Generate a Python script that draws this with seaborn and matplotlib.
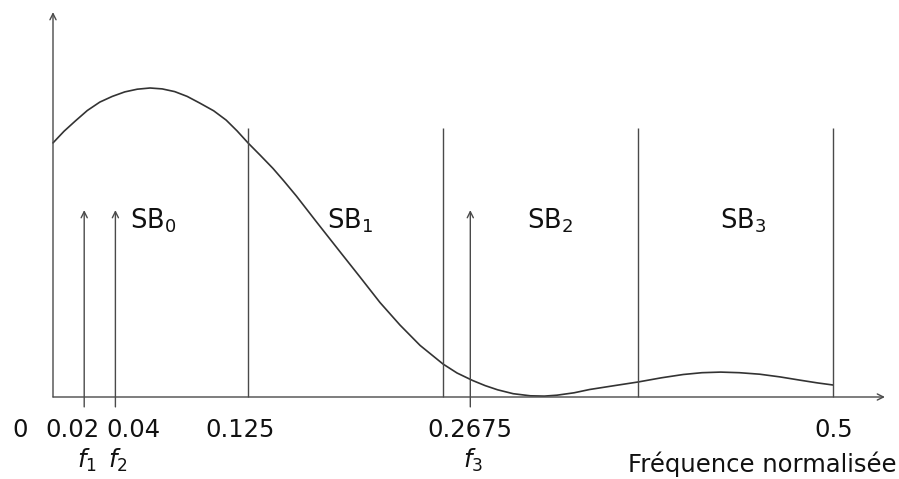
import numpy as np
import pandas as pd
import seaborn as sns
import matplotlib.pyplot as plt

# spectre
freq = [0.0, 0.0071, 0.0143, 0.022, 0.030, 0.038, 0.046, 0.054, 0.0622, 0.070,
        0.078, 0.086, 0.094, 0.103, 0.111, 0.118, 0.125, 0.133, 0.141, 0.148,
        0.156, 0.169, 0.184, 0.1968, 0.2096, 0.2224, 0.2353, 0.25, 0.259, 0.269,
        0.277, 0.285, 0.295, 0.306, 0.315, 0.323, 0.334, 0.344, 0.36, 0.375,
        0.39, 0.404, 0.416, 0.428, 0.44, 0.453, 0.466, 0.479, 0.49, 0.5]
mag = [0.847, 0.886, 0.92, 0.955, 0.983, 1.002, 1.017, 1.026, 1.03, 1.027,
       1.018, 1.002, 0.98, 0.954, 0.923, 0.887, 0.847, 0.805, 0.762, 0.72,
       0.670, 0.583, 0.484, 0.40, 0.315, 0.240, 0.172, 0.11, 0.08, 0.055,
       0.038, 0.024, 0.011, 0.004, 0.003, 0.006, 0.014, 0.025, 0.038, 0.05,
       0.064, 0.075, 0.081, 0.083, 0.081, 0.076, 0.067, 0.056, 0.047, 0.04]

band_edges = [0.125, 0.25, 0.375, 0.5]
band_names = ["SB$_0$", "SB$_1$", "SB$_2$", "SB$_3$"]
band_label_x = [0.0494, 0.1756, 0.3038, 0.4276]

tones = [0.02, 0.04, 0.2675]
tone_names = ["$f_1$", "$f_2$", "$f_3$"]

tick_vals = [0, 0.02, 0.04, 0.125, 0.2675, 0.5]
tick_text = ["0", "0.02", "0.04", "0.125", "0.2675", "0.5"]
tick_shift = [-0.0212, -0.0075, 0.0116, -0.0051, 0.0, 0.0006]

sns.set_style("white")
plt.rcParams['font.family'] = ['DejaVu Sans']
plt.rcParams['mathtext.fontset'] = 'dejavusans'

fig = plt.figure(figsize=(8.99, 4.79), dpi=100)
ax = fig.add_axes([0, 0, 1, 1])
ax.set_xlim(-53 / 1560, 846 / 1560)
ax.set_ylim(-82 / 300, 397 / 300)
ax.set_axis_off()

line_col = "#4a4a4a"
txt_col = "#111111"

# courbe
df = pd.DataFrame({"f": freq, "m": mag})
sns.lineplot(data=df, x="f", y="m", ax=ax, color="#333333", lw=1.2)

# axes avec fleches
arr = dict(arrowstyle="->", lw=1.0, color=line_col, mutation_scale=11,
           shrinkA=0, shrinkB=0)
ax.annotate("", xy=(0, 1.283), xytext=(0, 0), arrowprops=arr)
ax.annotate("", xy=(0.5333, 0), xytext=(0, 0), arrowprops=arr)

# limites des sous-bandes
ax.vlines(band_edges, 0, 0.897, color=line_col, lw=1.0)

# raies
for t in tones:
    ax.annotate("", xy=(t, 0.623), xytext=(t, -0.033), arrowprops=arr)

for x, s in zip(band_label_x, band_names):
    ax.text(x, 0.563, s, fontsize=18.5, ha="left", va="baseline", color=txt_col)

for v, s, d in zip(tick_vals, tick_text, tick_shift):
    ax.text(v + d, -0.11, s, fontsize=17.5, ha="center", va="center", color=txt_col)

for t, s in zip(tones, tone_names):
    ax.text(t - 0.0045, -0.235, s, fontsize=17.5, ha="left", va="baseline", color=txt_col)

ax.text(0.541, -0.25, "Fréquence normalisée", fontsize=17.5, ha="right",
        va="baseline", color=txt_col)

fig.savefig("out.png", dpi=100)
